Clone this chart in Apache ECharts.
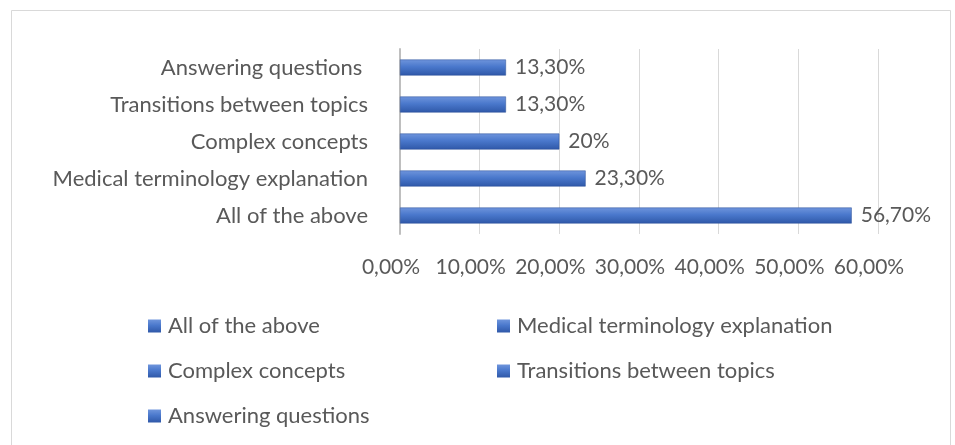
<!DOCTYPE html>
<html>
<head>
<meta charset="utf-8">
<script src="https://cdn.jsdelivr.net/npm/echarts@6/dist/echarts.min.js"></script>
<style>
html,body{margin:0;padding:0;background:#fff;}
#c{width:955px;height:445px;}
</style>
</head>
<body>
<div id="c"></div>
<script>
const categories = ["All of the above", "Medical terminology explanation", "Complex concepts", "Transitions between topics", "Answering questions "];
const values = [56.7, 23.3, 20, 13.3, 13.3];
const valueLabels = ["56,70%", "23,30%", "20%", "13,30%", "13,30%"];
const tickLabels = ["0,00%", "10,00%", "20,00%", "30,00%", "40,00%", "50,00%", "60,00%"];

const FONT = 'Lato';
const TXT = '#595959';
const TXT_SIZE = 22;
const NUM_SIZE = 21;
const barGrad = new echarts.graphic.LinearGradient(0, 0, 0, 1, [
  {offset: 0, color: '#6f95dc'},
  {offset: 0.45, color: '#4a78cc'},
  {offset: 1, color: '#2f58a8'}
]);

const series = categories.map((name, i) => ({
  name: name,
  type: 'bar',
  stack: 'all',
  barWidth: 16,
  data: categories.map((c, j) => j === i ? values[i] : '-'),
  itemStyle: {color: barGrad, borderColor: '#2a4f96', borderWidth: 0.5},
  label: {
    show: true, position: 'right', distance: 9,
    formatter: () => valueLabels[i],
    fontFamily: FONT, fontSize: NUM_SIZE, color: TXT
  }
}));

const legendCommon = {
  orient: 'vertical', top: 310, itemWidth: 13, itemHeight: 13, itemGap: 23,
  icon: 'rect',
  itemStyle: {borderWidth: 0},
  textStyle: {fontFamily: FONT, fontSize: TXT_SIZE, color: TXT, padding: [0, 0, 0, 2]}
};

const chart = echarts.init(document.getElementById('c'), null, {renderer: 'canvas'});
chart.setOption({
  animation: false,
  backgroundColor: '#fff',
  color: ['#4472c4', '#4472c4', '#4472c4', '#4472c4', '#4472c4'],
  graphic: [{
    type: 'rect', left: 9, top: 8, shape: {width: 939, height: 450},
    style: {fill: 'none', stroke: '#d9d9d9', lineWidth: 1}, silent: true
  }],
  grid: {left: 400, right: 77, top: 49, bottom: 211, containLabel: false},
  xAxis: {
    type: 'value', min: 0, max: 60, interval: 10,
    axisLine: {show: false}, axisTick: {show: false},
    splitLine: {show: true, lineStyle: {color: '#d9d9d9', width: 1}},
    axisLabel: {
      margin: 23, fontFamily: FONT, fontSize: NUM_SIZE, color: TXT,
      padding: [0, 18, 0, 0],
      formatter: (v) => tickLabels[Math.round(v / 10)]
    }
  },
  yAxis: {
    type: 'category', data: categories,
    axisLine: {show: true, lineStyle: {color: '#bfbfbf', width: 2}},
    axisTick: {show: false},
    axisLabel: {margin: 32, fontFamily: FONT, fontSize: TXT_SIZE, color: TXT}
  },
  legend: [
    Object.assign({left: 143, data: [categories[0], categories[2], categories[4]]}, legendCommon),
    Object.assign({left: 492, data: [categories[1], categories[3]]}, legendCommon)
  ],
  series: series
});
</script>
</body>
</html>
